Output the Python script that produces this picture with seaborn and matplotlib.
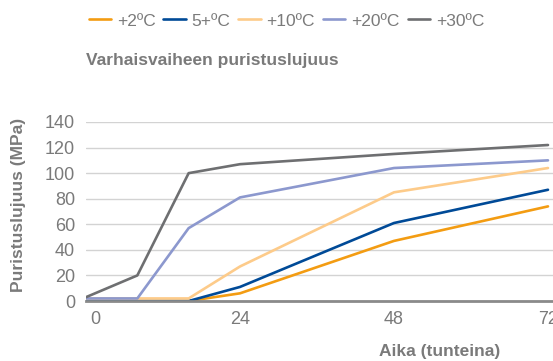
import matplotlib
matplotlib.use("Agg")
import matplotlib.pyplot as plt
import matplotlib.transforms as mtransforms
import seaborn as sns
import pandas as pd

hours = [0, 8, 16, 24, 48, 72]
series_names = ["+2ºC", "5+ºC", "+10ºC", "+20ºC", "+30ºC"]
s2 = [0, 0, 0, 6, 47, 74]
s5 = [0, 0, 0, 11, 61, 87]
s10 = [2, 2, 2, 27, 85, 104]
s20 = [2, 2, 57, 81, 104, 110]
s30 = [3, 20, 100, 107, 115, 122]
colors = ["#F39C12", "#004A97", "#FDCB8A", "#8C98CE", "#6E6F71"]
xticks = [0, 24, 48, 72]
yticks = [0, 20, 40, 60, 80, 100, 120, 140]

rows = []
for name, vals in zip(series_names, [s2, s5, s10, s20, s30]):
    for h, v in zip(hours, vals):
        rows.append({"Aika": h, "Lujuus": v, "Sarja": name})
df = pd.DataFrame(rows)

sns.set_theme(style="white")
plt.rcParams["font.family"] = ["Liberation Sans", "DejaVu Sans"]

fig = plt.figure(figsize=(5.53, 3.61), dpi=100)
ax = fig.add_axes([86 / 553, 60 / 361, 467 / 553, 179 / 361])

sns.lineplot(data=df, x="Aika", y="Lujuus", hue="Sarja", hue_order=series_names,
             palette=colors, linewidth=1.9, ax=ax, legend=True)

handles, labels = ax.get_legend_handles_labels()
ax.get_legend().remove()

ax.set_xlim(0, 72.78)
ax.set_ylim(0, 140)
ax.set_xticks(xticks)
ax.set_yticks(yticks)
ax.set_xticklabels([str(t) for t in xticks])
ax.grid(axis="y", color="#D3D3D3", linewidth=1)
ax.grid(axis="x", visible=False)
for sp in ["top", "right", "left"]:
    ax.spines[sp].set_visible(False)
ax.spines["bottom"].set_color("#8A8A8A")
ax.spines["bottom"].set_linewidth(2)
ax.spines["bottom"].set_zorder(5)
ax.tick_params(axis="both", length=0, labelsize=13, labelcolor="#7A7A7A")
ax.tick_params(axis="x", pad=7)
ax.tick_params(axis="y", pad=8)

lbl0 = ax.get_xticklabels()[0]
lbl0.set_transform(lbl0.get_transform() + mtransforms.ScaledTranslation(9 / 100, 0, fig.dpi_scale_trans))

ax.set_xlabel("Aika (tunteina)", fontsize=12.5, fontweight="bold", color="#7A7A7A")
ax.xaxis.set_label_coords(0.758, -0.24)
ax.set_ylabel("Puristuslujuus (MPa)", fontsize=12.5, fontweight="bold", color="#7A7A7A")
ax.yaxis.set_label_coords(-0.128, 0.536)

fig.legend(handles, labels, loc="center left", bbox_to_anchor=(73 / 553, 1 - 21 / 361),
           ncol=5, frameon=False, fontsize=12.5, labelcolor="#7A7A7A",
           handlelength=1.27, handletextpad=0.35, columnspacing=0.46)

fig.text(86 / 553, 1 - 60 / 361, "Varhaisvaiheen puristuslujuus", fontsize=12.5,
         fontweight="bold", color="#7A7A7A", ha="left", va="center")

fig.savefig("out.png", dpi=100)
